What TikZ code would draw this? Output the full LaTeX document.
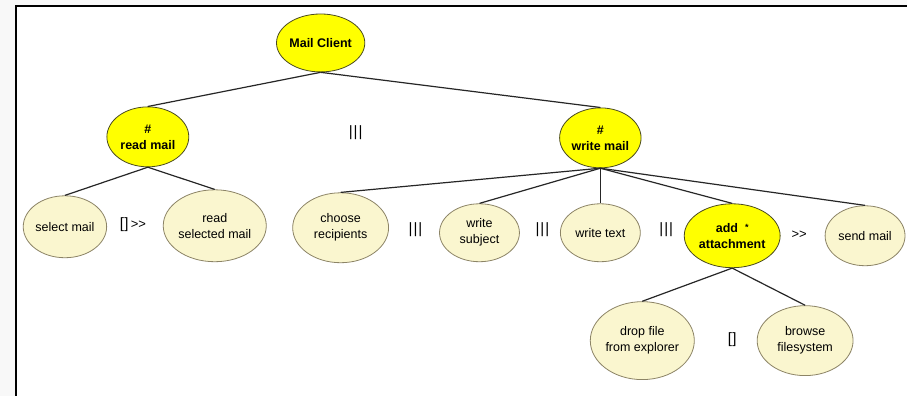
\documentclass[tikz,border=0pt]{standalone}
\usepackage{fontspec}
\setmainfont{Liberation Sans}
\usetikzlibrary{shapes.geometric}
\definecolor{opyellow}{HTML}{FFFF00}
\definecolor{opline}{HTML}{4A4A20}
\definecolor{leafcream}{HTML}{FAF6CF}
\definecolor{leafline}{HTML}{8C8466}
\definecolor{pagegray}{HTML}{F8F8F8}

\begin{document}
\begin{tikzpicture}[
  x=1pt, y=-1pt,
  opnode/.style 2 args={
    ellipse, draw=opline, line width=0.8pt, fill=opyellow,
    minimum width=#1, minimum height=#2, inner sep=0pt,
    align=center, font=\fontsize{12.5}{16}\selectfont\bfseries
  },
  leafnode/.style 2 args={
    ellipse, draw=leafline, line width=0.8pt, fill=leafcream,
    minimum width=#1, minimum height=#2, inner sep=0pt,
    align=center, font=\fontsize{12.5}{16}\selectfont
  },
  oper/.style={font=\fontsize{15}{17}\selectfont, inner sep=0pt},
  link/.style={line width=1.2pt, black!85},
]

% Background
\fill[pagegray] (0,0) rectangle (908,396);
\fill[white] (16,6) rectangle (908,396);
\draw[line width=2pt] (16,396) -- (16,6) -- (908,6);
\useasboundingbox (0,0) rectangle (908,396);

% =============================================
% Root and first level
% =============================================
\node[opnode={84pt}{58pt}] (mc) at (321,43) {Mail Client};

\node[opnode={82pt}{60pt}] (rm) at (148,137) {\#\\read mail};
\node[opnode={80pt}{60pt}] (wm) at (601,138) {\#\\write mail};

\node[oper] (op1) at (356,133) {|\kern1pt|\kern1pt|};

\draw[link] (mc.south) -- (rm.north);
\draw[link] (mc.south) -- (wm.north);

% =============================================
% read mail
% =============================================
\node[leafnode={80pt}{62pt}] (sm) at (65,227) {select mail};
\node[leafnode={100pt}{72pt}] (rsm) at (215,226) {read\\selected mail};

\node[oper] (op2) at (133,225) {[\kern0.5pt]{\fontsize{13}{15}\selectfont\,{>}{>}}};

\draw[link] (rm.south) -- (sm.north);
\draw[link] (rm.south) -- (rsm.north);

% =============================================
% write mail
% =============================================
\node[leafnode={96pt}{70pt}] (cr) at (341,228) {choose\\recipients};
\node[leafnode={80pt}{58pt}] (ws) at (480,233) {write\\subject};
\node[leafnode={80pt}{58pt}] (wt) at (601,233) {write text};
\node[opnode={96pt}{64pt}] (aa) at (733,236) {add~~\raisebox{2pt}{\fontsize{9}{9}\selectfont *}\\attachment};
\node[leafnode={80pt}{60pt}] (snd) at (866,236) {send mail};

\node[oper] (op3) at (416,230) {|\kern1pt|\kern1pt|};
\node[oper] (op4) at (543,230) {|\kern1pt|\kern1pt|};
\node[oper] (op5) at (667,230) {|\kern1pt|\kern1pt|};
\node[oper] (op6) at (800,235) {\fontsize{13}{15}\selectfont{>}{>}};

\draw[link] (wm.south) -- (cr.north);
\draw[link] (wm.south) -- (ws.north);
\draw[link] (wm.south) -- (wt.north);
\draw[link] (wm.south) -- (aa.north);
\draw[link] (wm.south) -- (snd.north);

% =============================================
% add attachment
% =============================================
\node[leafnode={94pt}{78pt}] (df) at (643,341) {drop file\\from explorer};
\node[leafnode={96pt}{70pt}] (bf) at (806,341) {browse\\filesystem};

\node[oper] (op7) at (733,340) {[\kern0.5pt]};

\draw[link] (aa.south) -- (df.north);
\draw[link] (aa.south) -- (bf.north);

\end{tikzpicture}
\end{document}
